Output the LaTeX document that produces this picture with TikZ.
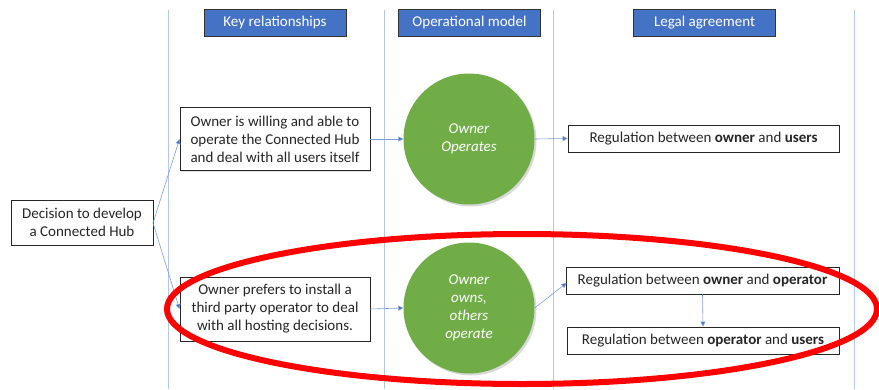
\documentclass[tikz,border=0pt]{standalone}
\usepackage{fontspec}
\setmainfont{Carlito}
\usetikzlibrary{arrows.meta,shadows}
\definecolor{hdr}{HTML}{4472C4}
\definecolor{grn}{HTML}{70AD47}
\definecolor{vline}{HTML}{B4C7E7}
\definecolor{arr}{HTML}{4472C4}
\definecolor{txt}{HTML}{262626}
\tikzset{
  hdrbox/.style={draw=black!80, fill=hdr, text=white, minimum width=142pt, minimum height=27pt, inner sep=0pt, font=\fontsize{15}{18}\selectfont, line width=0.8pt},
  txtbox/.style={draw=black!85, fill=white, text=txt, align=center, inner sep=0pt, font=\fontsize{15}{18}\selectfont, line width=0.9pt, drop shadow={shadow xshift=1pt, shadow yshift=-1pt, opacity=0.25}},
  circ/.style={circle, fill=grn, text=white, align=center, minimum size=131pt, inner sep=0pt, font=\fontsize{15}{18}\selectfont\itshape, drop shadow={shadow xshift=2pt, shadow yshift=-2pt, opacity=0.3}},
  conn/.style={draw=arr!70, line width=0.6pt, -{Triangle[length=5pt,width=5pt,fill=arr]}},
}
\begin{document}
\begin{tikzpicture}[x=1pt,y=-1pt]
\useasboundingbox (0,0) rectangle (879,389);
% vertical lines
\foreach \xx in {168,384,553,854} \draw[vline, line width=0.8pt] (\xx,10) -- (\xx,389);
% headers
\node[hdrbox] (h1) at (275,22.5) {Key relationships};
\node[hdrbox] (h2) at (469.5,22.5) {Operational model};
\node[hdrbox] (h3) at (704.5,22.5) {Legal agreement};
% boxes
\node[txtbox, minimum width=142pt, minimum height=45pt] (dec) at (82,222.5) {Decision to develop\\a Connected Hub};
\node[txtbox, minimum width=190pt, minimum height=63pt] (b1) at (275,139) {Owner is willing and able to\\operate the Connected Hub\\and deal with all users itself};
\node[txtbox, minimum width=190pt, minimum height=64pt] (b2) at (275,309) {Owner prefers to install a\\third party operator to deal\\with all hosting decisions.};
\node[circ] (c1) at (469,139) {Owner\\Operates};
\node[circ] (c2) at (469,308) {Owner\\owns,\\others\\operate};
\node[txtbox, minimum width=271pt, minimum height=27pt] (r1) at (703.5,138.5) {Regulation between \textbf{owner} and \textbf{users}};
\node[txtbox, minimum width=273pt, minimum height=27pt] (r2) at (702.5,280.5) {Regulation between \textbf{owner} and \textbf{operator}};
\node[txtbox, minimum width=272pt, minimum height=27pt] (r3) at (703,340.5) {Regulation between \textbf{operator} and \textbf{users}};
% connectors
\coordinate (dj) at (153,223);
\draw[conn] (dj) -- (b1.west);
\draw[conn] (dj) -- (b2.west);
\draw[conn] (b1.east) -- (c1.west);
\draw[conn] (b2.east) -- (c2.west);
\draw[conn] (c1.east) -- (r1.west);
\draw[conn] (c2.east) -- ([xshift=1pt]r2.south west |- 0,283);
\draw[conn] (r2.south) -- (r3.north);
% red ellipse
\draw[red, line width=6pt] (522,309) ellipse [x radius=355pt, y radius=75pt];
\end{tikzpicture}
\end{document}
